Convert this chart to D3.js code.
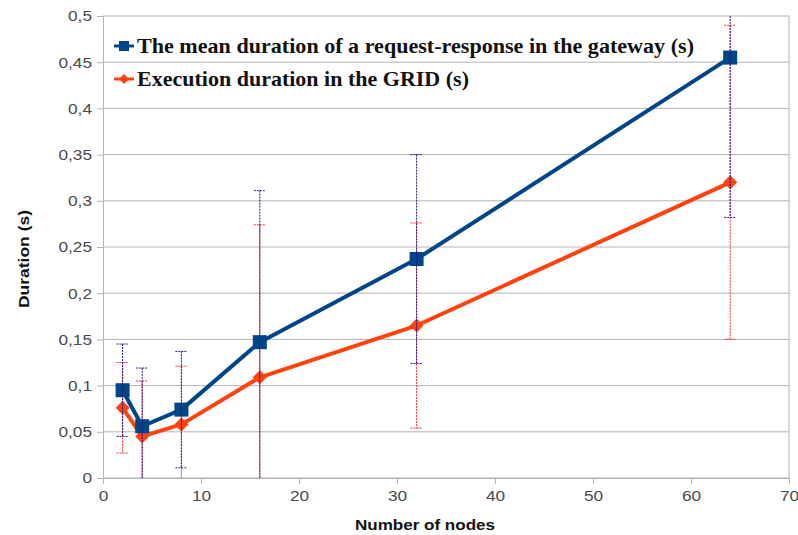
<!DOCTYPE html>
<html><head><meta charset="utf-8">
<script src="https://cdn.jsdelivr.net/npm/d3@7"></script>
<style>body{margin:0;background:#fff}</style>
</head><body>
<svg id="c" width="798" height="535"></svg>
<script>
const nodes = [2, 4, 8, 16, 32, 64];
const gateway = [0.095, 0.056, 0.074, 0.147, 0.237, 0.455];
const gatewayErr = [0.050, 0.063, 0.063, 0.164, 0.113, 0.173];
const grid = [0.076, 0.045, 0.058, 0.109, 0.165, 0.320];
const gridErr = [0.049, 0.060, 0.063, 0.165, 0.111, 0.170];
const xTicks = [0, 10, 20, 30, 40, 50, 60, 70];
const yTicks = [0, 0.05, 0.1, 0.15, 0.2, 0.25, 0.3, 0.35, 0.4, 0.45, 0.5];
const seriesNames = ["The mean duration of a request-response in the gateway (s)", "Execution duration in the GRID (s)"];

const svg = d3.select("#c");
const L = 103, R = 789, T = 16, B = 478;
const x = d3.scaleLinear().domain([0, 70]).range([L, R]);
const y = d3.scaleLinear().domain([0, 0.5]).range([B, T]);
const fmt = d => String(d).replace(".", ",");
const clampY = v => y(Math.max(0, Math.min(0.5, v)));
const SANS = "Liberation Sans, Arial, sans-serif";

function stretch(sel, k) {
  sel.each(function () {
    const w = this.getComputedTextLength();
    d3.select(this).attr("textLength", w * k).attr("lengthAdjust", "spacingAndGlyphs");
  });
}

// grid
svg.append("g").selectAll("line").data(yTicks).join("line")
  .attr("x1", L).attr("x2", R).attr("y1", d => y(d)).attr("y2", d => y(d))
  .attr("stroke", "#b3b3b3").attr("stroke-width", 1);
svg.append("line").attr("x1", R).attr("x2", R).attr("y1", T).attr("y2", B).attr("stroke", "#b3b3b3");

// axes
const ya = svg.append("g").attr("transform", `translate(${L},0)`)
  .call(d3.axisLeft(y).tickValues(yTicks).tickFormat(fmt).tickSize(6).tickPadding(5));
const xa = svg.append("g").attr("transform", `translate(0,${B})`)
  .call(d3.axisBottom(x).tickValues(xTicks).tickSize(6).tickPadding(6));
[ya, xa].forEach(a => {
  a.selectAll(".domain").attr("stroke", "#b3b3b3");
  a.selectAll(".tick line").attr("stroke", "#b3b3b3");
  a.selectAll("text").attr("fill", "#4a4a4a").style("font-family", SANS).style("font-size", "15px");
  stretch(a.selectAll("text"), 1.15);
});

svg.append("text").attr("x", 425).attr("y", 530).attr("text-anchor", "middle")
  .style("font-family", SANS).style("font-size", "15px").style("font-weight", "bold")
  .attr("fill", "#111").attr("textLength", 140).attr("lengthAdjust", "spacingAndGlyphs")
  .text("Number of nodes");
svg.append("text").attr("transform", "translate(29,259) rotate(-90)").attr("text-anchor", "middle")
  .style("font-family", SANS).style("font-size", "15px").style("font-weight", "bold")
  .attr("fill", "#111").attr("textLength", 98).attr("lengthAdjust", "spacingAndGlyphs")
  .text("Duration (s)");

function errBars(vals, errs, color) {
  const g = svg.append("g");
  nodes.forEach((n, i) => {
    const hi = vals[i] + errs[i], lo = vals[i] - errs[i];
    const cx = x(n);
    g.append("line").attr("x1", cx).attr("x2", cx).attr("y1", clampY(hi)).attr("y2", clampY(lo))
      .attr("stroke", color).attr("stroke-width", 1).attr("stroke-dasharray", "2,1");
    [hi, lo].forEach(v => {
      if (v <= 0.5 && v >= 0) {
        g.append("line").attr("x1", cx - 6).attr("x2", cx + 6).attr("y1", y(v)).attr("y2", y(v))
          .attr("stroke", color).attr("stroke-width", 1).attr("stroke-dasharray", "2,1");
      }
    });
  });
}

const line = d3.line().x((d, i) => x(nodes[i])).y(d => y(d));

// orange series
svg.append("path").datum(grid).attr("d", line).attr("fill", "none").attr("stroke", "#ff420e").attr("stroke-width", 4).attr("stroke-linejoin", "round");
svg.append("g").selectAll("path").data(grid).join("path")
  .attr("transform", (d, i) => `translate(${x(nodes[i])},${y(d)})`)
  .attr("d", "M0,-7L7,0L0,7L-7,0Z").attr("fill", "#ff420e");
errBars(grid, gridErr, "#ff3030");

// blue series
svg.append("path").datum(gateway).attr("d", line).attr("fill", "none").attr("stroke", "#004586").attr("stroke-width", 4).attr("stroke-linejoin", "round");
svg.append("g").selectAll("rect").data(gateway).join("rect")
  .attr("x", (d, i) => x(nodes[i]) - 7).attr("y", d => y(d) - 7).attr("width", 14).attr("height", 14)
  .attr("fill", "#004586");
errBars(gateway, gatewayErr, "#1a1a8c");

// legend
const legendWidths = [557, 332];
const lg = svg.append("g");
[["#004586", "sq"], ["#ff420e", "di"]].forEach((s, i) => {
  const cy = 46 + i * 33;
  lg.append("line").attr("x1", 114).attr("x2", 134).attr("y1", cy).attr("y2", cy).attr("stroke", s[0]).attr("stroke-width", 3);
  if (s[1] === "sq") lg.append("rect").attr("x", 119).attr("y", cy - 5).attr("width", 10).attr("height", 10).attr("fill", s[0]);
  else lg.append("path").attr("d", `M124,${cy-5}L129,${cy}L124,${cy+5}L119,${cy}Z`).attr("fill", s[0]);
  lg.append("text").attr("x", 137).attr("y", cy + 7)
    .style("font-family", "Liberation Serif, Times New Roman, serif").style("font-size", "21px").style("font-weight", "bold")
    .attr("fill", "#111").attr("textLength", legendWidths[i]).attr("lengthAdjust", "spacingAndGlyphs")
    .text(seriesNames[i]);
});
</script>
</body></html>
